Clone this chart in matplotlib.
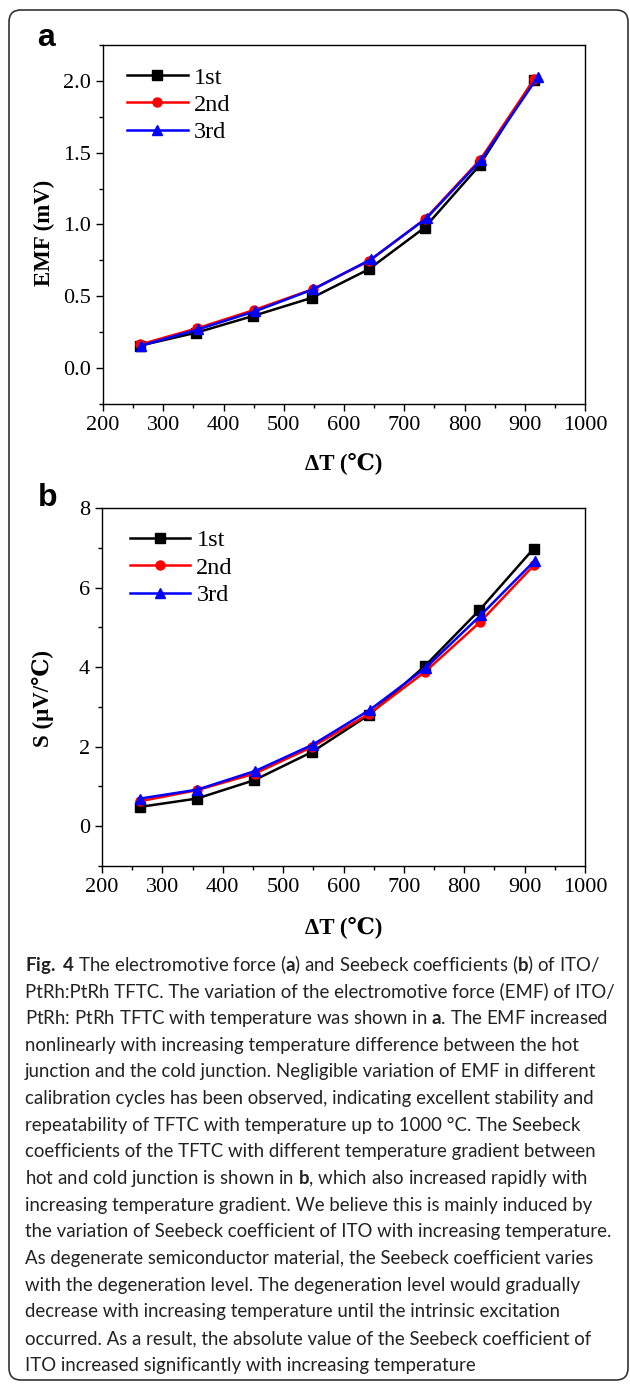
import numpy as np
import matplotlib
matplotlib.use("Agg")
import matplotlib.pyplot as plt
from matplotlib.ticker import MultipleLocator, FormatStrFormatter
from matplotlib.patches import FancyBboxPatch

#-------------------------------------------------------------
# data
#-------------------------------------------------------------
series = ["1st", "2nd", "3rd"]
colors = ["black", "red", "blue"]
markers = ["s", "o", "^"]

# panel a : EMF (mV) vs dT
dT_a = [[261, 355, 449, 547, 641, 734, 825, 915],
        [262, 356, 451, 548, 642, 735, 826, 916],
        [263, 358, 452, 549, 645, 737, 828, 922]]
emf = [[0.156, 0.247, 0.363, 0.490, 0.688, 0.979, 1.412, 2.009],
       [0.165, 0.277, 0.405, 0.549, 0.747, 1.040, 1.451, 2.014],
       [0.156, 0.270, 0.395, 0.549, 0.758, 1.044, 1.451, 2.030]]

# panel b : Seebeck coefficient (uV/C) vs dT
dT_b = [[263, 357, 452, 548, 643, 735, 825, 915],
        [263, 357, 453, 548, 643, 735, 826, 916],
        [263, 358, 454, 549, 644, 736, 827, 917]]
seebeck = [[0.486, 0.695, 1.156, 1.868, 2.806, 4.03, 5.43, 6.98],
           [0.628, 0.905, 1.323, 1.993, 2.830, 3.88, 5.13, 6.57],
           [0.695, 0.920, 1.390, 2.050, 2.930, 3.98, 5.30, 6.68]]

caption = [
    r"$\mathbf{Fig.}$ $\mathbf{4}$ The electromotive force ($\mathbf{a}$) and Seebeck coefficients ($\mathbf{b}$) of ITO/",
    "PtRh:PtRh TFTC. The variation of the electromotive force (EMF) of ITO/",
    r"PtRh: PtRh TFTC with temperature was shown in $\mathbf{a}$. The EMF increased",
    "nonlinearly with increasing temperature difference between the hot",
    "junction and the cold junction. Negligible variation of EMF in different",
    "calibration cycles has been observed, indicating excellent stability and",
    "repeatability of TFTC with temperature up to 1000 °C. The Seebeck",
    "coefficients of the TFTC with different temperature gradient between",
    r"hot and cold junction is shown in $\mathbf{b}$, which also increased rapidly with",
    "increasing temperature gradient. We believe this is mainly induced by",
    "the variation of Seebeck coefficient of ITO with increasing temperature.",
    "As degenerate semiconductor material, the Seebeck coefficient varies",
    "with the degeneration level. The degeneration level would gradually",
    "decrease with increasing temperature until the intrinsic excitation",
    "occurred. As a result, the absolute value of the Seebeck coefficient of",
    "ITO increased significantly with increasing temperature",
]

#-------------------------------------------------------------
# style
#-------------------------------------------------------------
serif = ["Liberation Serif", "DejaVu Serif"]
plt.rcParams["font.family"] = serif
plt.rcParams["mathtext.fontset"] = "custom"
plt.rcParams["mathtext.rm"] = "Lato"
plt.rcParams["mathtext.bf"] = "Lato:bold"

W, H = 630, 1385
fig = plt.figure(figsize=(W / 100, H / 100), dpi=100)

# rounded frame round the whole figure
frame = FancyBboxPatch((0.09, 0.05), 6.19, 13.70,
                       boxstyle="round,pad=0,rounding_size=0.12",
                       transform=fig.dpi_scale_trans, fill=False,
                       edgecolor="#333333", linewidth=1.2)
fig.patches.append(frame)

def px_axes(left, top, right, bottom):
    return fig.add_axes([left / W, 1 - bottom / H, (right - left) / W, (bottom - top) / H])

ax_a = px_axes(103, 45, 585, 404)
ax_b = px_axes(102, 508, 585, 866)

def style(ax, ylim, ymaj, ymin, ylabel, ylab_y, xlab_y, leg_anchor):
    ax.set_xlim(200, 1000)
    ax.set_ylim(*ylim)
    ax.xaxis.set_major_locator(MultipleLocator(100))
    ax.xaxis.set_minor_locator(MultipleLocator(50))
    ax.yaxis.set_major_locator(MultipleLocator(ymaj))
    ax.yaxis.set_minor_locator(MultipleLocator(ymin))
    ax.tick_params(which="both", direction="out", top=False, right=False,
                   labelsize=16, width=1.0, pad=3.5)
    ax.tick_params(which="major", length=5)
    ax.tick_params(which="minor", length=3)
    for s in ax.spines.values():
        s.set_linewidth(1.0)
    ax.set_xlabel("ΔT (℃)", fontsize=16.5, fontweight="bold")
    ax.xaxis.set_label_coords(0.5, xlab_y)
    ax.xaxis.label.set_verticalalignment("center")
    ax.set_ylabel(ylabel, fontsize=16.5, fontweight="bold")
    ax.yaxis.set_label_coords(-0.122, ylab_y)
    ax.yaxis.label.set_verticalalignment("center")
    ax.legend(loc="upper left", bbox_to_anchor=leg_anchor, frameon=False,
              fontsize=17.5, handlelength=2.5, handletextpad=0.25,
              labelspacing=0.22, borderpad=0, borderaxespad=0)

for i in range(3):
    ax_a.plot(dT_a[i], emf[i], color=colors[i], marker=markers[i],
              markersize=6.5, linewidth=1.8, label=series[i])
    ax_b.plot(dT_b[i], seebeck[i], color=colors[i], marker=markers[i],
              markersize=6.5, linewidth=1.8, label=series[i])

style(ax_a, (-0.25, 2.25), 0.5, 0.25, "EMF (mV)", 0.476, -0.164, (0.05, 0.94))
ax_a.yaxis.set_major_formatter(FormatStrFormatter("%.1f"))
style(ax_b, (-1, 8), 2, 1, "S (μV/℃)", 0.469, -0.170, (0.057, 0.94))

# panel letters
fig.text(46 / W, 1 - 38 / H, "a", fontsize=23, fontweight="bold",
         family="Liberation Sans", ha="center", va="center")
fig.text(48 / W, 1 - 498 / H, "b", fontsize=23, fontweight="bold",
         family="Liberation Sans", ha="center", va="center")

# caption
y0, dy = 965, 26.67
for k, line in enumerate(caption):
    fig.text(25 / W, 1 - (y0 + k * dy) / H, line, fontsize=13.4,
             family=["Lato", "DejaVu Sans"], color="#222222", ha="left", va="center")

plt.savefig("out.png", dpi=100)
